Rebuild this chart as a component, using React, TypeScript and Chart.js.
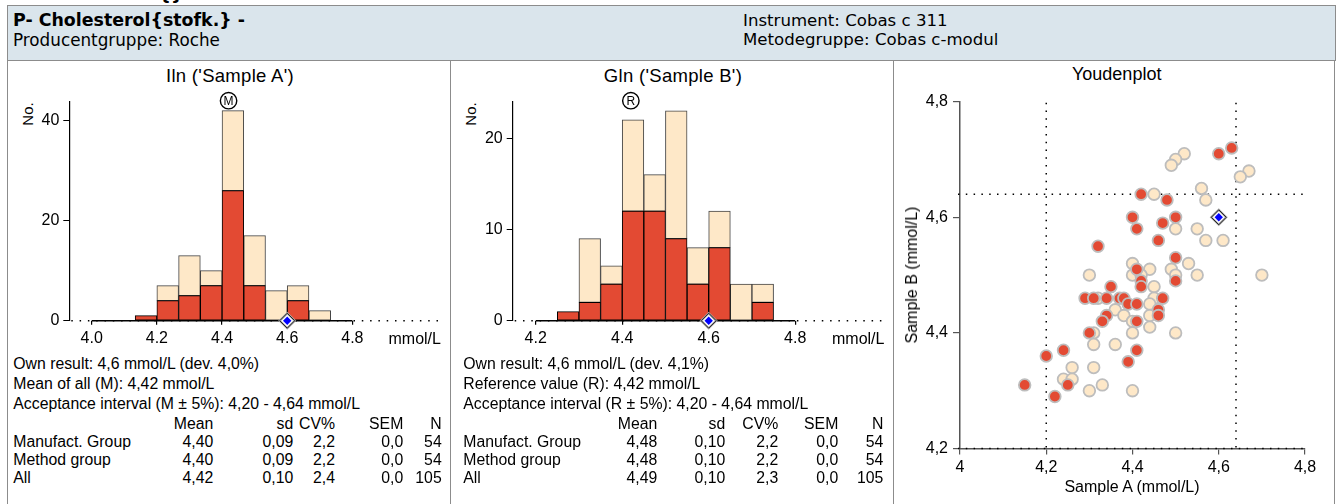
import React, { useEffect, useRef } from 'react';
import { Chart, registerables } from 'chart.js';

Chart.register(...registerables);

const FONT = "'Liberation Sans', Arial, Helvetica, sans-serif";
const WIDE = "'DejaVu Sans', Verdana, sans-serif";
const RED = '#e34a33';
const LIGHT = '#fee8c8';

// ---------- Histogram A (Sample A) ----------
const binCentersA = [4.0333, 4.1, 4.1667, 4.2333, 4.3, 4.3667, 4.4333, 4.5, 4.5667, 4.6333, 4.7, 4.7667];
const groupCountsA = [0, 0, 1, 4, 5, 7, 26, 7, 0, 4, 0, 0];
const otherCountsA = [0, 0, 0, 3, 8, 3, 16, 10, 6, 3, 2, 0];
const xTicksA = [4.0, 4.2, 4.4, 4.6, 4.8];
const yTicksA = [0, 20, 40];
const meanAllA = 4.42;
const ownResultA = 4.6;

// ---------- Histogram B (Sample B) ----------
const binCentersB = [4.225, 4.275, 4.325, 4.375, 4.425, 4.475, 4.525, 4.575, 4.625, 4.675, 4.725, 4.775];
const groupCountsB = [0, 1, 2, 4, 12, 12, 9, 4, 8, 0, 2, 0];
const otherCountsB = [0, 0, 7, 2, 10, 4, 14, 4, 4, 4, 2, 0];
const xTicksB = [4.2, 4.4, 4.6, 4.8];
const yTicksB = [0, 10, 20];
const referenceB = 4.42;
const ownResultB = 4.6;

// ---------- Youden plot ----------
const groupA = [4.63, 4.60, 4.42, 4.48, 4.40, 4.50, 4.47, 4.41, 4.46, 4.32, 4.50, 4.41, 4.50, 4.42, 4.42, 4.35, 4.29, 4.31, 4.34, 4.37, 4.38, 4.47, 4.39, 4.41, 4.46, 4.34, 4.46, 4.33, 4.41, 4.30, 4.24, 4.41, 4.20, 4.39, 4.25, 4.15, 4.22];
const groupB = [4.72, 4.71, 4.64, 4.63, 4.60, 4.60, 4.59, 4.58, 4.56, 4.55, 4.53, 4.51, 4.49, 4.49, 4.48, 4.48, 4.46, 4.46, 4.46, 4.46, 4.46, 4.46, 4.45, 4.45, 4.44, 4.43, 4.43, 4.42, 4.42, 4.40, 4.37, 4.37, 4.36, 4.35, 4.31, 4.31, 4.29];
const otherA = [4.52, 4.50, 4.49, 4.67, 4.65, 4.56, 4.45, 4.57, 4.50, 4.55, 4.57, 4.61, 4.53, 4.40, 4.44, 4.49, 4.30, 4.40, 4.42, 4.50, 4.55, 4.70, 4.45, 4.32, 4.45, 4.44, 4.36, 4.38, 4.44, 4.40, 4.44, 4.31, 4.40, 4.50, 4.31, 4.36, 4.26, 4.31, 4.24, 4.26, 4.33, 4.30, 4.40];
const otherB = [4.71, 4.70, 4.69, 4.68, 4.67, 4.65, 4.64, 4.63, 4.58, 4.58, 4.56, 4.56, 4.52, 4.52, 4.51, 4.51, 4.50, 4.50, 4.50, 4.50, 4.50, 4.50, 4.48, 4.46, 4.46, 4.45, 4.44, 4.43, 4.43, 4.42, 4.41, 4.40, 4.40, 4.40, 4.38, 4.38, 4.34, 4.34, 4.32, 4.32, 4.31, 4.30, 4.30];
const youdenTicksX = [4, 4.2, 4.4, 4.6, 4.8];
const youdenTicksY = [4.2, 4.4, 4.6, 4.8];
const accLowA = 4.2;
const accHighA = 4.64;
const accLowB = 4.2;
const accHighB = 4.64;

// ---------- Statistics tables ----------
const statRows = ['Manufact. Group', 'Method group', 'All'];
const statHead = ['Mean', 'sd', 'CV%', 'SEM', 'N'];
const meanColA = ['4,40', '4,40', '4,42'];
const sdColA = ['0,09', '0,09', '0,10'];
const cvColA = ['2,2', '2,2', '2,4'];
const semColA = ['0,0', '0,0', '0,0'];
const nColA = ['54', '54', '105'];
const meanColB = ['4,48', '4,48', '4,49'];
const sdColB = ['0,10', '0,10', '0,10'];
const cvColB = ['2,2', '2,2', '2,3'];
const semColB = ['0,0', '0,0', '0,0'];
const nColB = ['54', '54', '105'];

const infoA = ['Own result: 4,6 mmol/L (dev. 4,0%)', 'Mean of all (M): 4,42 mmol/L', 'Acceptance interval (M \u00b1 5%): 4,20 - 4,64 mmol/L'];
const infoB = ['Own result: 4,6 mmol/L (dev. 4,1%)', 'Reference value (R): 4,42 mmol/L', 'Acceptance interval (R \u00b1 5%): 4,20 - 4,64 mmol/L'];

const BODY = 15.8;

function drawDiamond(ctx: CanvasRenderingContext2D, cx: number, cy: number) {
  ctx.save();
  ctx.setLineDash([]);
  ctx.beginPath();
  ctx.moveTo(cx, cy - 7.5);
  ctx.lineTo(cx + 7.5, cy);
  ctx.lineTo(cx, cy + 7.5);
  ctx.lineTo(cx - 7.5, cy);
  ctx.closePath();
  ctx.fillStyle = '#fff';
  ctx.fill();
  ctx.strokeStyle = '#aaa';
  ctx.lineWidth = 2.2;
  ctx.stroke();
  ctx.strokeStyle = '#222';
  ctx.lineWidth = 1;
  ctx.stroke();
  ctx.beginPath();
  ctx.moveTo(cx, cy - 4.2);
  ctx.lineTo(cx + 4.2, cy);
  ctx.lineTo(cx, cy + 4.2);
  ctx.lineTo(cx - 4.2, cy);
  ctx.closePath();
  ctx.fillStyle = '#0000ff';
  ctx.fill();
  ctx.restore();
}

type TxtProps = { x: number; y: number; text: string; size?: number; bold?: boolean; align?: 'left' | 'right' | 'center'; family?: string; ls?: number };
function Txt({ x, y, text, size = BODY, bold = false, align = 'left', family = FONT, ls = 0 }: TxtProps) {
  const tr = align === 'right' ? 'translateX(-100%)' : align === 'center' ? 'translateX(-50%)' : undefined;
  return (
    <div style={{ position: 'absolute', left: x, top: y - size * 0.85, fontSize: size, lineHeight: `${size}px`, fontWeight: bold ? 'bold' : 'normal', fontFamily: family, whiteSpace: 'nowrap', transform: tr, color: '#000', letterSpacing: ls }}>
      {text}
    </div>
  );
}

function VTxt({ cx, cy, text, size }: { cx: number; cy: number; text: string; size: number }) {
  return (
    <div style={{ position: 'absolute', left: cx, top: cy, fontSize: size, lineHeight: `${size}px`, fontFamily: FONT, whiteSpace: 'nowrap', transform: 'translate(-50%, -50%) rotate(-90deg)', color: '#000' }}>
      {text}
    </div>
  );
}

type HistProps = {
  left: number; top: number; width: number; height: number;
  centers: number[]; group: number[]; other: number[];
  xMin: number; xMax: number; yMax: number; xTicks: number[]; yTicks: number[];
  marker: number; markerLetter: string; own: number;
  axisW: number; axisH: number; padTop: number; padRight: number;
};

function Histogram(p: HistProps) {
  const ref = useRef<HTMLCanvasElement>(null);
  useEffect(() => {
    if (!ref.current) return;
    const half = (p.centers[1] - p.centers[0]) / 2;
    const nz = (arr: number[]) => arr.map((v, i) => ({ x: p.centers[i], y: v === 0 ? null : v }));
    const extras = {
      id: 'histExtras',
      afterDatasetsDraw(chart: any) {
        const { ctx, chartArea: a, scales } = chart;
        const x = scales.x, y = scales.y;
        const y0 = y.getPixelForValue(0);
        ctx.save();
        ctx.strokeStyle = '#000';
        ctx.lineWidth = 1.5;
        ctx.setLineDash([1.5, 6.8]);
        ctx.beginPath();
        ctx.moveTo(a.left + 2, y0);
        ctx.lineTo(a.right, y0);
        ctx.stroke();
        ctx.setLineDash([]);
        ctx.lineWidth = 1.6;
        ctx.beginPath();
        ctx.moveTo(x.getPixelForValue(p.centers[0] - half), y0);
        ctx.lineTo(x.getPixelForValue(p.centers[p.centers.length - 1] + half), y0);
        ctx.stroke();
        const mx = x.getPixelForValue(p.marker);
        const my = a.top - 1;
        ctx.beginPath();
        ctx.arc(mx, my, 8.2, 0, Math.PI * 2);
        ctx.fillStyle = '#fff';
        ctx.fill();
        ctx.lineWidth = 1.4;
        ctx.stroke();
        ctx.fillStyle = '#000';
        ctx.font = `12px ${FONT}`;
        ctx.textAlign = 'center';
        ctx.textBaseline = 'middle';
        ctx.fillText(p.markerLetter, mx, my + 0.5);
        ctx.restore();
        drawDiamond(ctx, x.getPixelForValue(p.own), y0);
      },
    };
    const chart = new Chart(ref.current, {
      type: 'bar',
      data: {
        datasets: [
          { data: nz(p.group) as any, backgroundColor: RED, borderColor: '#000', borderWidth: 1, borderSkipped: false, barPercentage: 1, categoryPercentage: 1 },
          { data: nz(p.other) as any, backgroundColor: LIGHT, borderColor: '#444', borderWidth: 1, borderSkipped: false, barPercentage: 1, categoryPercentage: 1 },
        ],
      },
      options: {
        animation: false,
        responsive: false,
        maintainAspectRatio: false,
        layout: { padding: { top: p.padTop, right: p.padRight, left: 0, bottom: 0 } },
        plugins: { legend: { display: false }, tooltip: { enabled: false }, title: { display: false } },
        scales: {
          x: {
            type: 'linear', stacked: true, min: p.xMin, max: p.xMax, offset: false,
            afterBuildTicks: (s: any) => { s.ticks = p.xTicks.map((v) => ({ value: v })); },
            afterFit: (s: any) => { s.height = p.axisH; },
            ticks: { callback: (v: any) => Number(v).toFixed(1), font: { family: FONT, size: 16 }, color: '#000', padding: 4, maxRotation: 0, autoSkip: false },
            grid: { display: true, drawOnChartArea: false, drawTicks: true, tickLength: 4, color: '#000', lineWidth: 1.2, offset: false },
            border: { display: false },
          },
          y: {
            stacked: true, min: 0, max: p.yMax,
            afterBuildTicks: (s: any) => { s.ticks = p.yTicks.map((v) => ({ value: v })); },
            afterFit: (s: any) => { s.width = p.axisW; },
            ticks: { font: { family: FONT, size: 16 }, color: '#000', padding: 4 },
            grid: { display: true, drawOnChartArea: false, drawTicks: true, tickLength: 6, color: '#000', lineWidth: 1 },
            border: { display: true, color: '#000', width: 1.2 },
          },
        },
      } as any,
      plugins: [extras],
    });
    return () => chart.destroy();
  }, []);
  return <canvas ref={ref} width={p.width} height={p.height} style={{ position: 'absolute', left: p.left, top: p.top, width: p.width, height: p.height }} />;
}

function Youden() {
  const ref = useRef<HTMLCanvasElement>(null);
  useEffect(() => {
    if (!ref.current) return;
    const extras = {
      id: 'youdenExtras',
      beforeDatasetsDraw(chart: any) {
        const { ctx, chartArea: a, scales } = chart;
        const x = scales.x, y = scales.y;
        ctx.save();
        ctx.strokeStyle = '#000';
        ctx.lineWidth = 1.5;
        ctx.setLineDash([1.5, 6.3]);
        for (const v of [accLowA, accHighA]) {
          const px = x.getPixelForValue(v);
          ctx.beginPath();
          ctx.moveTo(px, a.top + 1);
          ctx.lineTo(px, a.bottom);
          ctx.stroke();
        }
        for (const v of [accLowB, accHighB]) {
          const py = y.getPixelForValue(v);
          ctx.beginPath();
          ctx.moveTo(a.left - 2, py);
          ctx.lineTo(a.right, py);
          ctx.stroke();
        }
        ctx.restore();
      },
      afterDatasetsDraw(chart: any) {
        const { ctx, scales } = chart;
        drawDiamond(ctx, scales.x.getPixelForValue(ownResultA), scales.y.getPixelForValue(ownResultB));
      },
    };
    const fmt = (v: number) => (v === 4 ? '4' : v.toFixed(1).replace('.', ','));
    const chart = new Chart(ref.current, {
      type: 'scatter',
      data: {
        datasets: [
          { data: groupA.map((v, i) => ({ x: v, y: groupB[i] })), backgroundColor: RED, borderColor: '#bdbdbd', borderWidth: 1.8, pointRadius: 5.8 },
          { data: otherA.map((v, i) => ({ x: v, y: otherB[i] })), backgroundColor: LIGHT, borderColor: '#bdbdbd', borderWidth: 1.8, pointRadius: 5.8 },
        ],
      },
      options: {
        animation: false,
        responsive: false,
        maintainAspectRatio: false,
        layout: { padding: { top: 40.7, right: 27, left: 0, bottom: 0 } },
        plugins: { legend: { display: false }, tooltip: { enabled: false }, title: { display: false } },
        scales: {
          x: {
            type: 'linear', min: 4, max: 4.8,
            afterBuildTicks: (s: any) => { s.ticks = youdenTicksX.map((v) => ({ value: v })); },
            afterFit: (s: any) => { s.height = 54.5; },
            ticks: { callback: (v: any) => fmt(Number(v)), font: { family: FONT, size: 16 }, color: '#000', padding: 3.5, maxRotation: 0, autoSkip: false },
            grid: { display: true, drawOnChartArea: false, drawTicks: true, tickLength: 6, color: '#555', lineWidth: 1.2 },
            border: { display: true, color: '#555', width: 1.5 },
          },
          y: {
            type: 'linear', min: 4.2, max: 4.8,
            afterBuildTicks: (s: any) => { s.ticks = youdenTicksY.map((v) => ({ value: v })); },
            afterFit: (s: any) => { s.width = 60; },
            ticks: { callback: (v: any) => fmt(Number(v)), font: { family: FONT, size: 16 }, color: '#000', padding: 5 },
            grid: { display: true, drawOnChartArea: false, drawTicks: true, tickLength: 7, color: '#555', lineWidth: 1.2 },
            border: { display: true, color: '#555', width: 1.5 },
          },
        },
      } as any,
      plugins: [extras],
    });
    return () => chart.destroy();
  }, []);
  return <canvas ref={ref} width={432} height={442} style={{ position: 'absolute', left: 900, top: 61, width: 432, height: 442 }} />;
}

function StatTable({ x0, cols, cols2 }: { x0: number; cols: number[]; cols2: string[][] }) {
  const rowsY = [447.3, 465.3, 483.3];
  return (
    <>
      {statHead.map((h, i) => <Txt key={'h' + i} x={cols[i]} y={429.3} text={h} align="right" />)}
      {statRows.map((r, ri) => (
        <React.Fragment key={'r' + ri}>
          <Txt x={x0} y={rowsY[ri]} text={r} />
          {cols2.map((c, ci) => <Txt key={ci} x={cols[ci]} y={rowsY[ri]} text={c[ri]} align="right" />)}
        </React.Fragment>
      ))}
    </>
  );
}

export default function App() {
  return (
    <div style={{ position: 'absolute', left: 0, top: 0, width: 1338, height: 504, overflow: 'hidden', background: '#fff', fontFamily: FONT }}>
      <Txt x={21} y={0.5} text="P- Cholesterol{}" size={17.4} bold family={WIDE} />
      <div style={{ position: 'absolute', left: 7, top: 5, width: 1327, height: 55, background: '#dae5ec', borderTop: '1px solid #8c8c8c', borderLeft: '1px solid #8c8c8c', borderRight: '1px solid #8c8c8c' }} />
      <Txt x={13} y={26.7} text="P- Cholesterol{stofk.} -" size={17.4} bold family={WIDE} />
      <Txt x={13} y={46.3} text="Producentgruppe: Roche" size={16.8} family={WIDE} />
      <Txt x={743} y={26.7} text="Instrument: Cobas c 311" size={16.6} family={WIDE} />
      <Txt x={743} y={46.3} text="Metodegruppe: Cobas c-modul" size={16.6} family={WIDE} />
      <div style={{ position: 'absolute', left: 7, top: 60, width: 443, height: 460, borderTop: '1px solid #8c8c8c', borderLeft: '1px solid #8c8c8c' }} />
      <div style={{ position: 'absolute', left: 450, top: 60, width: 443, height: 460, borderTop: '1px solid #8c8c8c', borderLeft: '1px solid #8c8c8c' }} />
      <div style={{ position: 'absolute', left: 893, top: 60, width: 440, height: 460, borderTop: '1px solid #8c8c8c', borderLeft: '1px solid #8c8c8c', borderRight: '1px solid #8c8c8c' }} />

      <Txt x={230} y={82.7} text="Iln ('Sample A')" size={18.5} align="center" ls={0.3} />
      <VTxt cx={26.5} cy={113.5} text="No." size={15} />
      <Histogram left={8} top={61} width={441} height={289} centers={binCentersA} group={groupCountsA} other={otherCountsA}
        xMin={3.9313} xMax={5.078} yMax={43.8} xTicks={xTicksA} yTicks={yTicksA} marker={meanAllA} markerLetter="M" own={ownResultA}
        axisW={61.3} axisH={29.3} padTop={40.7} padRight={6} />
      <Txt x={388.5} y={344.5} text="mmol/L" size={16} />

      <Txt x={673} y={82.7} text="Gln ('Sample B')" size={18.5} align="center" ls={0.3} />
      <VTxt cx={469.5} cy={113.5} text="No." size={15} />
      <Histogram left={451} top={61} width={437} height={289} centers={binCentersB} group={groupCountsB} other={otherCountsB}
        xMin={4.1468} xMax={5.0116} yMax={24} xTicks={xTicksB} yTicks={yTicksB} marker={referenceB} markerLetter="R" own={ownResultB}
        axisW={61.7} axisH={29.3} padTop={40.7} padRight={1.3} />
      <Txt x={832} y={344.5} text="mmol/L" size={16} />

      {infoA.map((t, i) => <Txt key={'ia' + i} x={13.3} y={369.3 + i * 20} text={t} />)}
      {infoB.map((t, i) => <Txt key={'ib' + i} x={463.3} y={369.3 + i * 20} text={t} />)}
      <StatTable x0={13.3} cols={[213.3, 293.3, 335, 403.3, 441.7]} cols2={[meanColA, sdColA, cvColA, semColA, nColA]} />
      <StatTable x0={463.3} cols={[657.3, 725.3, 778.3, 838.3, 883.3]} cols2={[meanColB, sdColB, cvColB, semColB, nColB]} />

      <Txt x={1116.7} y={80.7} text="Youdenplot" size={18} align="center" />
      <Youden />
      <VTxt cx={912} cy={275} text="Sample B (mmol/L)" size={16} />
      <Txt x={1132} y={493} text="Sample A (mmol/L)" size={16} align="center" />
    </div>
  );
}
